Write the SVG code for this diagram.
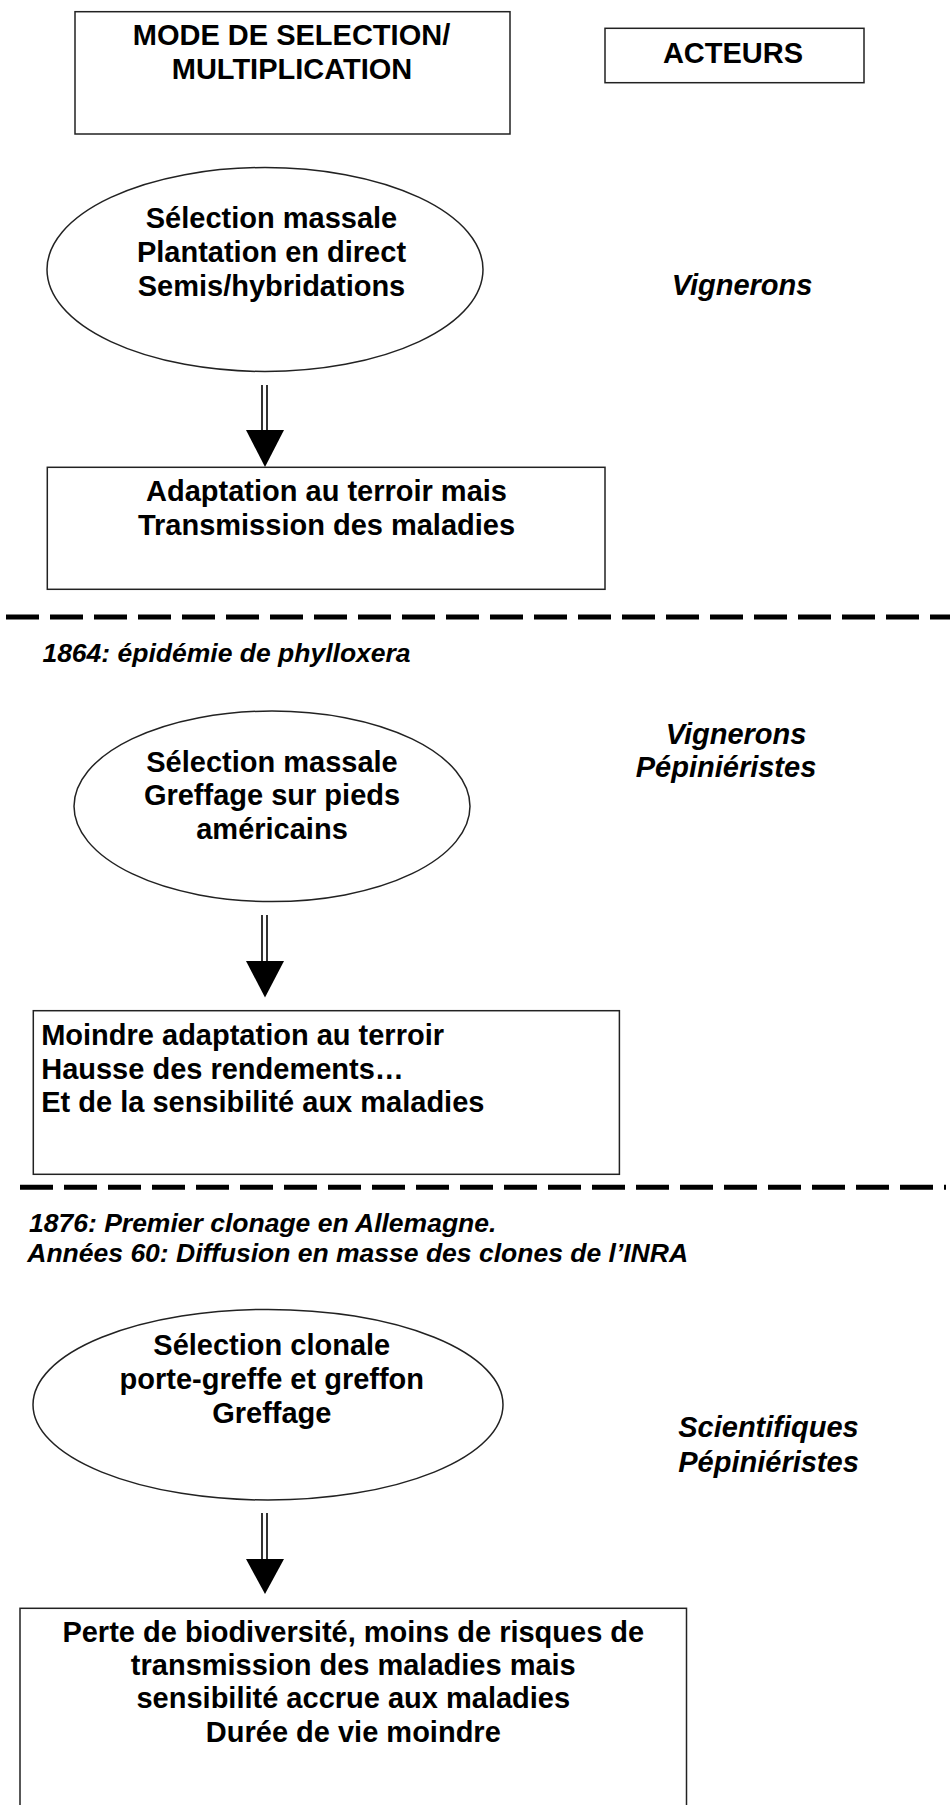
<svg xmlns="http://www.w3.org/2000/svg" width="950" height="1805" viewBox="0 0 950 1805">
<style>
.shape{fill:#fff;stroke:#222;stroke-width:1.5}
.t{font-family:"Liberation Sans",Arial,sans-serif;font-weight:bold;font-size:29px;fill:#000}
.c{text-anchor:middle}
.i{font-style:italic}
.a{font-size:26.5px}
.dash{stroke:#000;stroke-width:5;stroke-dasharray:33 11;fill:none}
.shaft{stroke:#000;stroke-width:1.6;fill:none}
.head{fill:#000}
</style>
<rect width="950" height="1805" fill="#fff"/>

<g id="header-mode">
<rect class="shape" x="75" y="11.7" width="435" height="122.3"/>
<text class="t c" x="291.5" y="45">MODE DE SELECTION/</text>
<text class="t c" x="292" y="79">MULTIPLICATION</text>
</g>
<g id="header-acteurs">
<rect class="shape" x="605" y="28.3" width="259" height="54.4"/>
<text class="t c" x="733" y="62.5">ACTEURS</text>
</g>

<g id="ellipse1">
<ellipse class="shape" cx="265" cy="269.5" rx="218" ry="102"/>
<text class="t c" x="271.5" y="228">Sélection massale</text>
<text class="t c" x="271.5" y="262">Plantation en direct</text>
<text class="t c" x="271.5" y="296">Semis/hybridations</text>
</g>
<g id="actors1">
<text class="t c i" x="742" y="295">Vignerons</text>
</g>
<g id="box1">
<rect class="shape" x="47.3" y="467.3" width="557.7" height="122"/>
<text class="t c" x="326.5" y="501">Adaptation au terroir mais</text>
<text class="t c" x="326.5" y="535">Transmission des maladies</text>
</g>

<g id="separator1">
<line class="dash" x1="6" y1="617" x2="950" y2="617"/>
<text class="t i a" x="42.4" y="662">1864: épidémie de phylloxera</text>
</g>

<g id="ellipse2">
<ellipse class="shape" cx="272" cy="806.3" rx="198" ry="95.3"/>
<text class="t c" x="272" y="772">Sélection massale</text>
<text class="t c" x="272" y="805">Greffage sur pieds</text>
<text class="t c" x="272" y="838.5">américains</text>
</g>
<g id="actors2">
<text class="t c i" x="736" y="744">Vignerons</text>
<text class="t c i" x="726" y="777">Pépiniéristes</text>
</g>
<g id="box2">
<rect class="shape" x="33.3" y="1010.7" width="586.1" height="163.6"/>
<text class="t" x="41.2" y="1045">Moindre adaptation au terroir</text>
<text class="t" x="41.2" y="1078.7">Hausse des rendements…</text>
<text class="t" x="41.2" y="1111.7">Et de la sensibilité aux maladies</text>
</g>

<g id="separator2">
<line class="dash" x1="20" y1="1187.3" x2="946" y2="1187.3"/>
<text class="t i a" x="29" y="1231.7">1876: Premier clonage en Allemagne.</text>
<text class="t i a" x="27.3" y="1262">Années 60: Diffusion en masse des clones de l’INRA</text>
</g>

<g id="ellipse3">
<ellipse class="shape" cx="268" cy="1404.7" rx="235" ry="95.3"/>
<text class="t c" x="271.8" y="1355">Sélection clonale</text>
<text class="t c" x="271.8" y="1389">porte-greffe et greffon</text>
<text class="t c" x="271.8" y="1423">Greffage</text>
</g>
<g id="actors3">
<text class="t c i" x="768.5" y="1437">Scientifiques</text>
<text class="t c i" x="768.5" y="1471.7">Pépiniéristes</text>
</g>
<g id="box3">
<rect class="shape" x="20" y="1608.3" width="666.5" height="230"/>
<text class="t c" x="353.3" y="1641.7">Perte de biodiversité, moins de risques de</text>
<text class="t c" x="353.3" y="1675">transmission des maladies mais</text>
<text class="t c" x="353.3" y="1708.3">sensibilité accrue aux maladies</text>
<text class="t c" x="353.3" y="1742">Durée de vie moindre</text>
</g>

<g id="connectors">
<line class="shaft" x1="262" y1="385" x2="262" y2="431"/>
<line class="shaft" x1="267" y1="385" x2="267" y2="431"/>
<polygon class="head" points="246,430 284,430 265,467"/>
<line class="shaft" x1="262" y1="915" x2="262" y2="962"/>
<line class="shaft" x1="267" y1="915" x2="267" y2="962"/>
<polygon class="head" points="246,961 284,961 265,997.5"/>
<line class="shaft" x1="262" y1="1513" x2="262" y2="1560"/>
<line class="shaft" x1="267" y1="1513" x2="267" y2="1560"/>
<polygon class="head" points="246,1559 284,1559 265,1594"/>
</g>
</svg>
